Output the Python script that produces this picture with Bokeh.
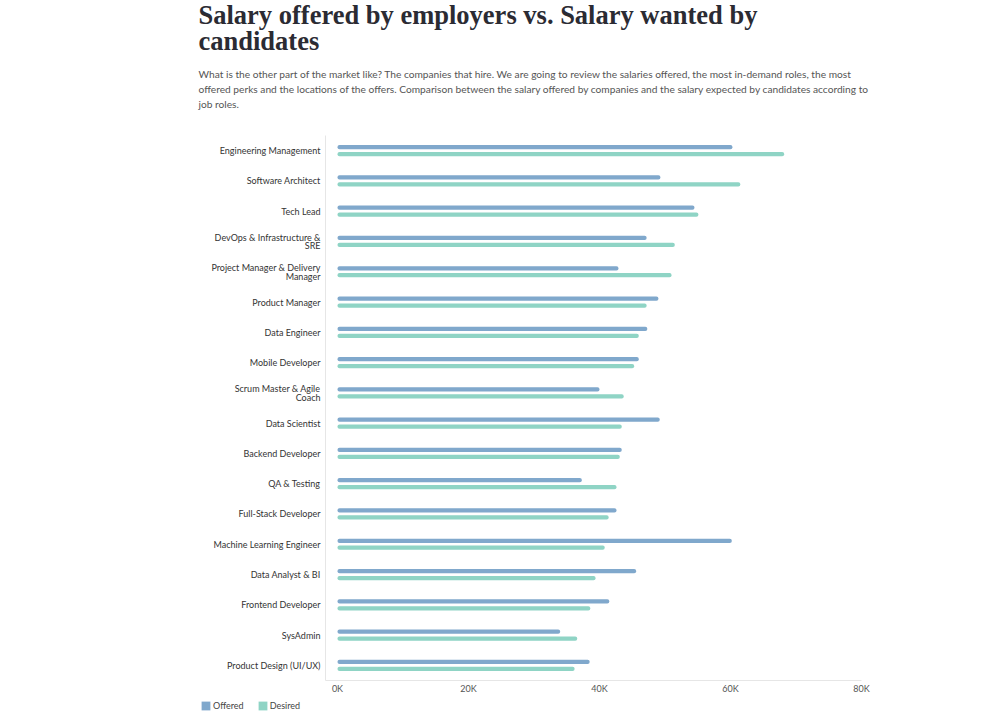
from bokeh.plotting import figure
from bokeh.models import (FactorRange, Range1d, FixedTicker, CustomJSTickFormatter,
                          Title, Legend, LegendItem, ColumnDataSource)
from bokeh.transform import dodge
from bokeh.layouts import column, row
from bokeh.embed import file_html
from bokeh.resources import INLINE

roles = ["Engineering Management", "Software Architect", "Tech Lead",
         "DevOps & Infrastructure &\nSRE", "Project Manager & Delivery\nManager",
         "Product Manager", "Data Engineer", "Mobile Developer",
         "Scrum Master & Agile\nCoach", "Data Scientist", "Backend Developer",
         "QA & Testing", "Full-Stack Developer", "Machine Learning Engineer",
         "Data Analyst & BI", "Frontend Developer", "SysAdmin", "Product Design (UI/UX)"]
offered = [60300, 49300, 54500, 47200, 42900, 49000, 47300, 46000, 40000, 49200,
           43400, 37300, 42600, 60200, 45600, 41500, 34000, 38500]
desired = [68200, 61500, 55100, 51500, 51000, 47200, 46000, 45300, 43700, 43400,
           43100, 42600, 41400, 40800, 39400, 38600, 36600, 36200]
x_ticks = [0, 20000, 40000, 60000, 80000]
series_names = ["Offered", "Desired"]

TITLE = "Salary offered by employers vs. Salary wanted by\ncandidates"
SUBTITLE = ("What is the other part of the market like? The companies that hire. We are going to review the salaries offered, the most in-demand roles, the most\n"
            "offered perks and the locations of the offers. Comparison between the salary offered by companies and the salary expected by candidates according to\n"
            "job roles.")

OFFERED_COLOR = "#80a8cc"
DESIRED_COLOR = "#8fd4c5"

src = ColumnDataSource(dict(role=roles, offered=offered, desired=desired))

y_range = FactorRange(factors=list(reversed(roles)), range_padding=0)
p = figure(width=989, height=696, y_range=y_range, x_range=Range1d(-1830, 80000),
           output_backend="svg", toolbar_location=None,
           min_border_left=325, min_border_right=128, min_border_top=0, min_border_bottom=16)
p.outline_line_color = None
p.grid.visible = False
p.background_fill_color = "white"

r1 = p.hbar(y=dodge("role", 0.115, range=p.y_range), right="offered", left=0, height=0.14,
            source=src, fill_color=OFFERED_COLOR, line_color=None, border_radius=2)
r2 = p.hbar(y=dodge("role", -0.115, range=p.y_range), right="desired", left=0, height=0.14,
            source=src, fill_color=DESIRED_COLOR, line_color=None, border_radius=2)

p.xaxis.ticker = FixedTicker(ticks=x_ticks)
p.xaxis.formatter = CustomJSTickFormatter(code="return (tick/1000) + 'K'")
for ax in (p.xaxis[0], p.yaxis[0]):
    ax.axis_line_color = "#e6e6e6"
    ax.major_tick_line_color = None
    ax.minor_tick_line_color = None
    ax.major_tick_out = 0
    ax.major_tick_in = 0
    ax.major_label_text_font = "Lato"
    ax.major_label_text_font_size = "9px"
p.xaxis.major_label_text_color = "#555555"
p.xaxis.major_label_standoff = 2
p.yaxis.major_label_text_color = "#333333"
p.yaxis.major_label_standoff = 5
p.yaxis.major_label_text_line_height = 0.8

spacer = Title(text=" ", text_font_size="1px", standoff=10)
p.add_layout(spacer, "above")
sub = Title(text=SUBTITLE, align="left", offset=-127, standoff=25,
            text_font="Lato", text_font_size="10.2px", text_font_style="normal",
            text_color="#555555", text_line_height=1.27)
p.add_layout(sub, "above")
main = Title(text=TITLE, align="left", offset=-127, standoff=-6,
             text_font="Liberation Serif", text_font_size="26.5px", text_font_style="bold",
             text_color="#2b2b33", text_line_height=0.886)
p.add_layout(main, "above")

# legend strip below the chart (zero-width swatch renderers only feed the legend)
q = figure(width=989, height=16, x_range=Range1d(0, 1), y_range=Range1d(0, 1),
           output_backend="svg", toolbar_location=None,
           x_axis_location=None, y_axis_location=None,
           min_border_left=0, min_border_right=0, min_border_top=0, min_border_bottom=0)
q.outline_line_color = None
q.grid.visible = False
swatch = ColumnDataSource(dict(y=[0.5], right=[0]))
g1 = q.hbar(y="y", right="right", left=0, height=0.1, source=swatch,
            fill_color=OFFERED_COLOR, line_color=None)
g2 = q.hbar(y="y", right="right", left=0, height=0.1, source=swatch,
            fill_color=DESIRED_COLOR, line_color=None)
legend = Legend(items=[LegendItem(label=series_names[0], renderers=[g1]),
                       LegendItem(label=series_names[1], renderers=[g2])],
                location=(200, 1), orientation="horizontal",
                glyph_width=11, glyph_height=11, label_standoff=2, spacing=13,
                padding=0, margin=0, border_line_color=None, background_fill_alpha=0,
                label_text_font="Lato", label_text_font_size="9px",
                label_text_color="#444444", label_height=11)
q.add_layout(legend, "center")

open("out.html", "w").write(file_html(column(p, row(q)), INLINE))
